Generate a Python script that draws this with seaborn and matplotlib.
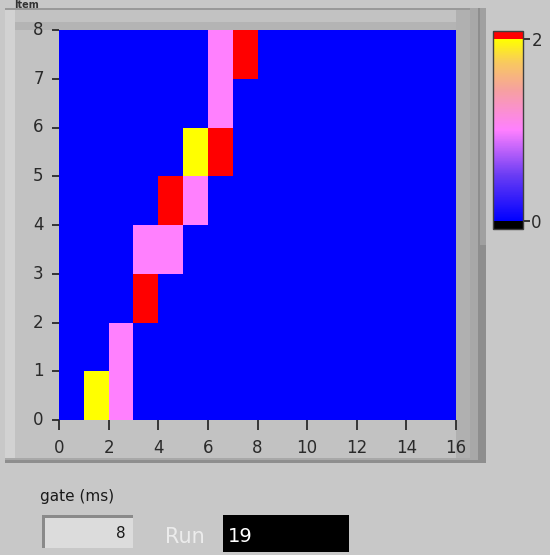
import numpy as np
import pandas as pd
import seaborn as sns
import matplotlib
matplotlib.use("Agg")
import matplotlib.pyplot as plt
from matplotlib.colors import LinearSegmentedColormap
from matplotlib.patches import Rectangle

# ---- data ----
cell_x = [1, 2, 2, 3, 3, 4, 4, 5, 5, 6, 6, 6, 7]
cell_y = [0, 0, 1, 2, 3, 3, 4, 4, 5, 5, 6, 7, 7]
cell_value = [2, 1, 1, 3, 1, 1, 3, 1, 2, 3, 1, 1, 3]
n_cols = 16
n_rows = 8
x_ticks = [0, 2, 4, 6, 8, 10, 12, 14, 16]
y_ticks = [0, 1, 2, 3, 4, 5, 6, 7, 8]
cbar_ticks = [0, 2]
gate_value = "8"
run_value = "19"

grid = np.zeros((n_rows, n_cols))
for x, y, v in zip(cell_x, cell_y, cell_value):
    grid[y, x] = v
df = pd.DataFrame(grid)

W, H = 550, 555
fig = plt.figure(figsize=(W / 100, H / 100), dpi=100)
fig.patch.set_facecolor("#c8c8c8")

def fx(px):
    return px / W

def fy(py):
    return 1 - py / H

def rect(x0, y0, x1, y1, z=-5, **kw):
    fig.patches.append(Rectangle((fx(x0), fy(y1)), fx(x1) - fx(x0), fy(y0) - fy(y1),
                                 transform=fig.transFigure, zorder=z, **kw))

# panel frame (behind axes)
rect(5, 8, 486, 463, facecolor="#8e8e8e", edgecolor="none")
rect(5, 8, 478, 460, facecolor="#a8a8a8", edgecolor="none")
rect(5, 8, 470, 458, facecolor="#c2c2c2", edgecolor="none")
rect(5, 8, 470, 10, facecolor="#9a9a9a", edgecolor="none")
rect(5, 10, 15, 458, facecolor="#d2d2d2", edgecolor="none")
rect(456, 10, 470, 458, facecolor="#b0b0b0", edgecolor="none")
rect(15, 22, 456, 30, facecolor="#b4b4b4", edgecolor="none")
rect(480, 8, 486, 245, facecolor="#a0a0a0", edgecolor="none")

# colormap
cmap = LinearSegmentedColormap.from_list(
    "lv", [(0.0, "#0000ff"), (0.25, "#6a3cf4"), (0.5, "#ff80ff"),
           (0.72, "#f6a0a0"), (0.87, "#f8c860"), (1.0, "#ffff00")])
cmap.set_over("#ff0000")
cmap.set_under("#000000")

ax = fig.add_axes([fx(59), fy(420), fx(456) - fx(59), fy(30) - fy(420)])
cax = fig.add_axes([fx(493), fy(229), fx(523) - fx(493), fy(31) - fy(229)])

sns.heatmap(df, ax=ax, cmap=cmap, vmin=0, vmax=2, cbar=True, cbar_ax=cax,
            cbar_kws=dict(extend="both", extendrect=True, extendfrac=0.045, ticks=cbar_ticks))
ax.invert_yaxis()
ax.set_xlim(0, n_cols)
ax.set_ylim(0, n_rows)
ax.set_xticks(x_ticks)
ax.set_xticklabels([str(t) for t in x_ticks])
ax.set_yticks(y_ticks)
ax.set_yticklabels([str(t) for t in y_ticks], rotation=0)
ax.tick_params(axis="x", direction="out", length=7, width=1.3, pad=7,
               labelsize=12, colors="#2a2a2a")
ax.tick_params(axis="y", direction="out", length=5, width=1.3, pad=6,
               labelsize=12, colors="#2a2a2a")
ax.set_xlabel("")
ax.set_ylabel("")
for s in ax.spines.values():
    s.set_visible(False)

cax.tick_params(direction="out", length=5, width=1.3, pad=1, labelsize=12, colors="#2a2a2a")
cax.set_yticklabels(["0", "2"])
cb = ax.collections[0].colorbar
cb.outline.set_edgecolor("#404040")
cb.outline.set_linewidth(1)

# label at top-left
fig.text(fx(14), fy(0.5), "Item", fontsize=7, color="#333333", fontweight="bold",
         ha="left", va="top")

# bottom controls
fig.text(fx(40), fy(497), "gate (ms)", fontsize=11, color="#1a1a1a", ha="left", va="center")
rect(42, 515, 133, 548, z=1, facecolor="#dcdcdc", edgecolor="none")
rect(42, 515, 133, 518, z=1, facecolor="#8a8a8a", edgecolor="none")
rect(42, 515, 45, 548, z=1, facecolor="#8a8a8a", edgecolor="none")
fig.text(fx(126), fy(533), gate_value, fontsize=11, color="#1a1a1a", ha="right", va="center")
fig.text(fx(165), fy(537), "Run", fontsize=15, color="#ececec", ha="left", va="center")
rect(223, 515, 349, 552, z=1, facecolor="#000000", edgecolor="none")
fig.text(fx(228), fy(536), run_value, fontsize=14, color="#ffffff", ha="left", va="center")

fig.savefig("out.png", dpi=100, facecolor=fig.get_facecolor())
